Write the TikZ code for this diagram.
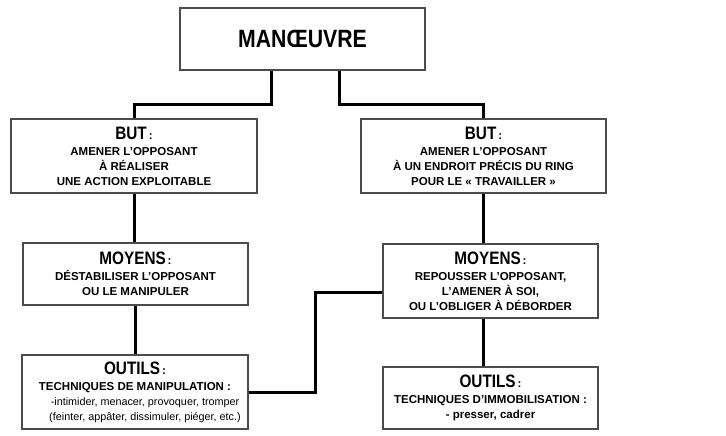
\documentclass[tikz,border=0pt]{standalone}
\usepackage{fontspec}
\setmainfont{Liberation Sans}
\newfontfamily\headfont[FakeStretch=0.85]{Liberation Sans}
\usepackage{tikz}

\newcommand{\entete}[2][18]{{\headfont\bfseries\fontsize{#1}{#1}\selectfont #2}}
\newcommand{\petit}[1]{{\mdseries\fontsize{10.8}{15}\selectfont #1}}

\begin{document}
\begin{tikzpicture}[x=1pt, y=-1pt,
  box/.style={draw=black!70, line width=1.4pt, fill=white, align=center, inner sep=2pt,
    font=\bfseries\fontsize{11.5}{15}\selectfont},
  link/.style={draw, line width=3pt}]

\useasboundingbox (0,0) rectangle (726,436);

\node [box, minimum width=245pt, minimum height=62pt] (0) at (302.5,39) {\entete[25]{MANŒUVRE}};

\node [box, minimum width=246pt, minimum height=74pt] (1) at (134,156) {\entete{BUT}\,:\\[1pt] AMENER L'OPPOSANT\\ À RÉALISER\\ UNE ACTION EXPLOITABLE};
\node [box, minimum width=245pt, minimum height=74pt] (2) at (483.5,156) {\entete{BUT}\,:\\[1pt] AMENER L'OPPOSANT\\ À UN ENDROIT PRÉCIS DU RING\\ POUR LE «~TRAVAILLER~»};

\node [box, minimum width=225pt, minimum height=62pt] (3) at (135.5,274) {\entete{MOYENS}\,:\\[1pt] DÉSTABILISER L'OPPOSANT\\ OU LE MANIPULER};
\node [box, minimum width=215pt, minimum height=74pt] (4) at (490.5,281) {\entete{MOYENS}\,:\\[1pt] REPOUSSER L'OPPOSANT,\\ L'AMENER À SOI,\\ OU L'OBLIGER À DÉBORDER};

\node [box, minimum width=226pt, minimum height=74pt] (5) at (135,392) {\entete{OUTILS}\,:\\[1pt] TECHNIQUES DE MANIPULATION :\\ \hspace*{20pt}\petit{-intimider, menacer, provoquer, tromper}\\ \hspace*{20pt}\petit{(feinter, appâter, dissimuler, piéger, etc.)}};
\node [box, minimum width=215pt, minimum height=62pt] (6) at (490.5,398) {\entete{OUTILS}\,:\\[1pt] TECHNIQUES D'IMMOBILISATION :\\ - presser, cadrer};

\path [link] ([xshift=-31.5pt]0.south) -- ++(0,34) -| (1.north);
\path [link] ([xshift=37pt]0.south) -- ++(0,34) -| (2.north);
\path [link] (1.south) -- (1.south |- 3.north);
\path [link] (3.south) -- (3.south |- 5.north);
\path [link] (2.south) -- (2.south |- 4.north);
\path [link] (4.south -| 2.south) -- (6.north -| 2.south);
\path [link] (5.east) -- ++(67,0) |- ([yshift=-11pt]4.west);

\end{tikzpicture}
\end{document}
